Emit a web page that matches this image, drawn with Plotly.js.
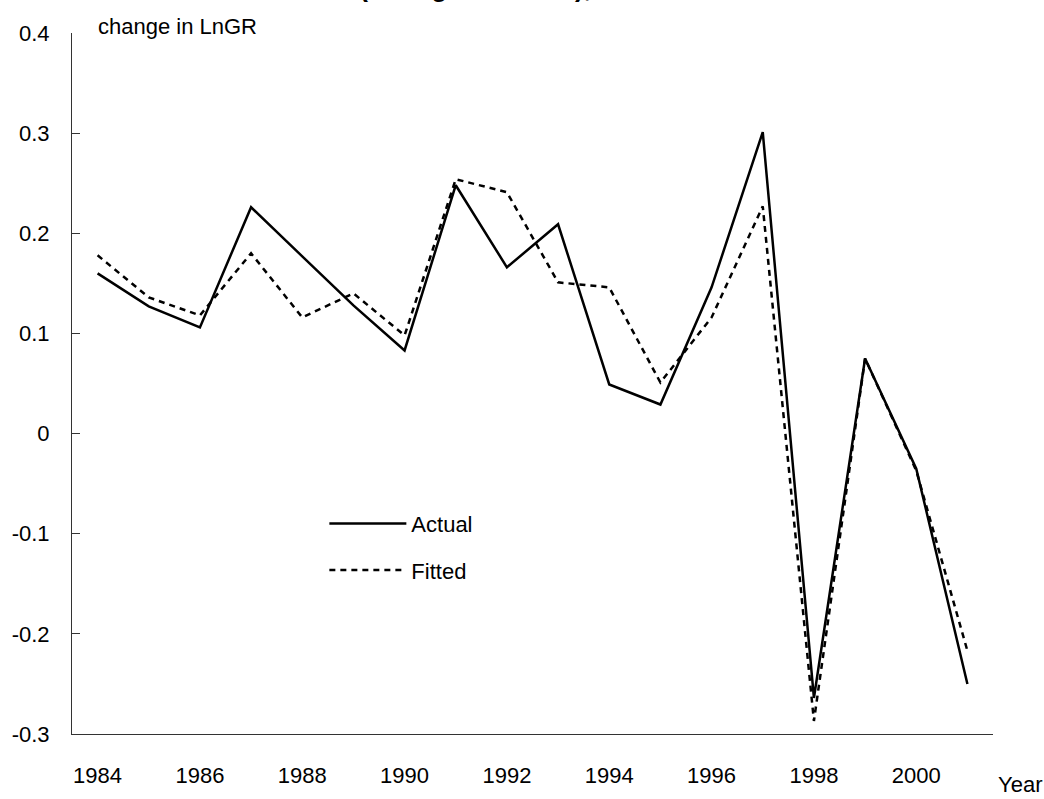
<!DOCTYPE html>
<html>
<head>
<meta charset="utf-8">
<script src="https://cdn.plot.ly/plotly-3.0.1.min.js"></script>
<style>html,body{margin:0;padding:0;background:#fff;}#chart{width:1044px;height:799px;}</style>
</head>
<body>
<div id="chart"></div>
<script>
const years = [1984,1985,1986,1987,1988,1989,1990,1991,1992,1993,1994,1995,1996,1997,1998,1999,2000,2001];
const actual = [0.160,0.127,0.106,0.226,0.177,0.128,0.083,0.248,0.166,0.209,0.049,0.029,0.146,0.301,-0.264,0.075,-0.035,-0.250];
const fitted = [0.178,0.136,0.118,0.180,0.116,0.140,0.098,0.254,0.241,0.151,0.146,0.051,0.116,0.227,-0.287,0.075,-0.037,-0.217];
const xTickVals = [1984,1986,1988,1990,1992,1994,1996,1998,2000];
const xTickText = ['1984','1986','1988','1990','1992','1994','1996','1998','2000'];
const yTickVals = [-0.3,-0.2,-0.1,0,0.1,0.2,0.3,0.4];
const yTickText = ['-0.3','-0.2','-0.1','0','0.1','0.2','0.3','0.4'];
const seriesNames = ['Actual','Fitted'];
const titleText = '(change in LnGR),';
const yLabelText = 'change in LnGR';
const xLabelText = 'Year';

const FONT = 'Liberation Sans, Arial, sans-serif';
const FS = 22;

const traces = [
  {x: years, y: actual, name: seriesNames[0], type: 'scatter', mode: 'lines',
   line: {color: '#000', width: 2.5}, legendgroup: 'a'},
  {x: years, y: fitted, name: seriesNames[1], type: 'scatter', mode: 'lines',
   line: {color: '#000', width: 2.5, dash: '6px,5px'}, legendgroup: 'f'}
];

const layout = {
  width: 1044, height: 799,
  margin: {l: 72, r: 51, t: 33, b: 65},
  paper_bgcolor: '#fff', plot_bgcolor: '#fff',
  font: {family: FONT, size: FS, color: '#000'},
  showlegend: true,
  legend: {x: 0.274, y: 0.33, xanchor: 'left', yanchor: 'top', bgcolor: 'rgba(0,0,0,0)',
           font: {family: FONT, size: FS, color: '#000'}, itemwidth: 77, tracegroupgap: 15,
           traceorder: 'grouped'},
  xaxis: {range: [1983.5, 2001.5], showgrid: false, zeroline: false, showline: true,
          linecolor: '#333', linewidth: 1, ticks: '', tickvals: xTickVals, ticktext: xTickText,
          ticklabelstandoff: 22, tickfont: {family: FONT, size: FS, color: '#000'}},
  yaxis: {range: [-0.3, 0.4], showgrid: false, zeroline: false, showline: true,
          linecolor: '#333', linewidth: 1, ticks: 'inside', ticklen: 8, tickcolor: '#333',
          tickvals: yTickVals, ticktext: yTickText, ticklabelstandoff: 17,
          tickfont: {family: FONT, size: FS, color: '#000'}},
  annotations: [
    {text: yLabelText, xref: 'paper', yref: 'paper', x: 24/921, y: 1.0, xanchor: 'left', yanchor: 'middle',
     yshift: 7, showarrow: false, font: {family: FONT, size: FS, color: '#000'}},
    {text: xLabelText, xref: 'paper', yref: 'paper', x: (1043 - 72)/921, y: 0, xanchor: 'right', yanchor: 'middle',
     yshift: -50, borderpad: 0, showarrow: false, font: {family: FONT, size: FS, color: '#000'}},
    {text: '<b>' + titleText + '</b>', xref: 'paper', yref: 'paper', x: (475 - 72)/921, y: 1, xanchor: 'center', yanchor: 'bottom',
     yshift: 29, showarrow: false, font: {family: FONT, size: 27, color: '#000'}}
  ]
};

Plotly.newPlot('chart', traces, layout, {displayModeBar: false, staticPlot: true});
</script>
</body>
</html>
